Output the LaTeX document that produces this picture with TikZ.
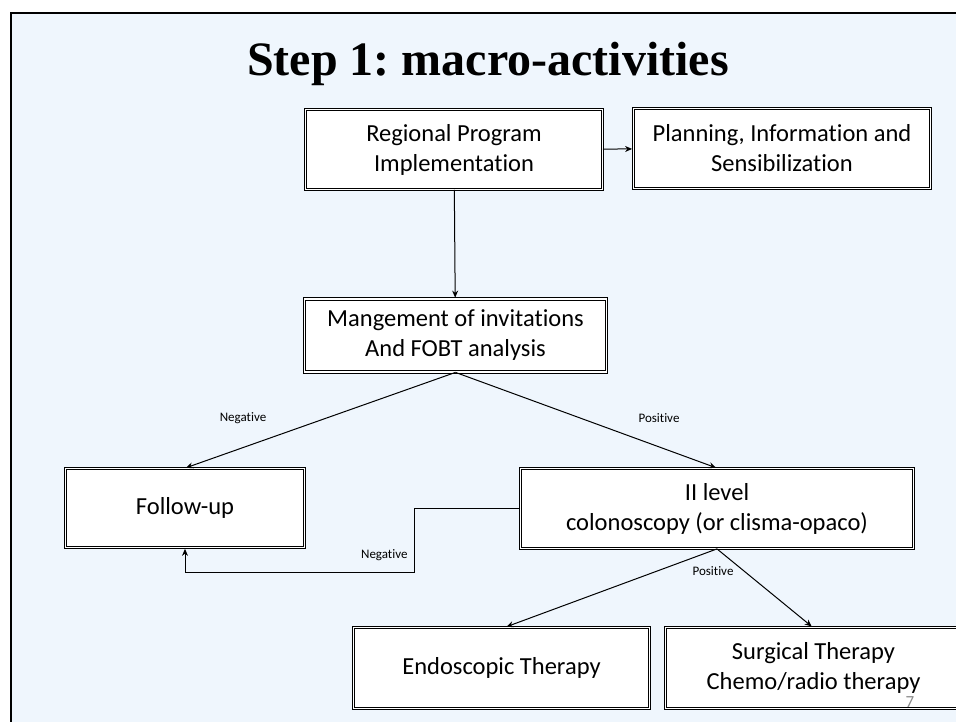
\documentclass[tikz,border=0pt]{standalone}
\usepackage{fontspec}
\setmainfont{Carlito}[Ligatures=NoCommon]
\newfontfamily\titlefont{Liberation Serif}
\usetikzlibrary{arrows.meta}
\definecolor{slidebg}{HTML}{EFF6FD}
\definecolor{pagenum}{HTML}{8C8C8C}

\begin{document}
\begin{tikzpicture}[x=1pt,y=-1pt,-,>={Stealth[length=7pt,width=6pt]},shorten >=1pt,line width=1pt,
    box node/.style={draw,line width=0.8pt,double,double distance=1.6pt,fill=white,align=center,inner sep=0pt,font=\fontsize{24.5}{30}\selectfont},
    label node/.style={inner sep=1pt,font=\fontsize{13}{15}\selectfont}]
    \useasboundingbox (0,0) rectangle (956,722);
    \clip (0,0) rectangle (956,722);
    % slide
    \fill[slidebg] (11,13) rectangle (980,740);
    \draw[line width=2.6pt] (11,740) -- (11,13) -- (980,13);

    \node[anchor=base,font=\titlefont\bfseries\fontsize{48}{56}\selectfont] (title) at (488,76) {\frenchspacing Step 1: macro-activities};

    \node[box node,minimum width=297pt,minimum height=80pt] (region) at (454,149.5) {Regional Program\\Implementation};
    \node[box node,minimum width=297pt,minimum height=80pt] (plan) at (782,148.5) {Planning, Information and\\Sensibilization};
    \node[box node,minimum width=302pt,minimum height=73pt] (fobt) at (455.5,335.5) {Mangement of invitations\\And FOBT analysis};
    \node[box node,minimum width=239pt,minimum height=79pt] (follow) at (185,508) {Follow-up};
    \node[box node,minimum width=393pt,minimum height=80pt] (level) at (717,508.5) {II level\\colonoscopy (or clisma-opaco)};
    \node[box node,minimum width=296pt,minimum height=81pt] (endo) at (501.5,668) {Endoscopic Therapy};
    \node[box node,minimum width=296pt,minimum height=81pt] (surg) at (813.5,668) {Surgical Therapy\\Chemo/radio therapy};

    \node[label node] (neg1) at (243,418) {Negative};
    \node[label node] (pos1) at (659,418) {Positive};
    \node[label node,anchor=east] (neg2) at (409,555) {Negative};
    \node[label node] (pos2) at (713,571) {Positive};
    \node[text=pagenum,font=\fontsize{17}{20}\selectfont] (page) at (910,702) {7};

    \coordinate (bendtop) at (414,508.5);
    \coordinate (bendlow) at (414,572);

    \path[->]
        (region) edge (plan)
        (region) edge (fobt)
        (fobt.south) edge (follow.north)
        (fobt.south) edge (level.north)
        (level.south) edge ([xshift=4pt]endo.north)
        (level.south) edge ([xshift=-1pt]surg.north)
        ;
    \draw[->] (level.west) -- (bendtop) -- (bendlow) -| (follow.south);
\end{tikzpicture}
\end{document}
